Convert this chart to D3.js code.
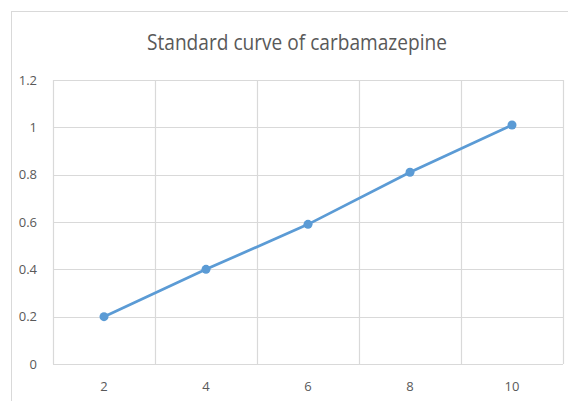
<!DOCTYPE html>
<html>
<head>
<meta charset="utf-8">
<script src="https://cdn.jsdelivr.net/npm/d3@7"></script>
<style>
  body { margin: 0; background: #fff; }
  text { font-family: "Open Sans", "Noto Sans", sans-serif; fill: #595959; }
</style>
</head>
<body>
<div id="chart"></div>
<script>
const chartTitle = "Standard curve of carbamazepine"
const concentrations = ["2", "4", "6", "8", "10"]
const absorbance = [0.2, 0.4, 0.59, 0.81, 1.01]
const yTicks = [0, 0.2, 0.4, 0.6, 0.8, 1, 1.2]

const width = 568, height = 401
const margin = { top: 80, right: 5, bottom: 37, left: 53 }

const svg = d3.select("#chart").append("svg")
    .attr("width", width)
    .attr("height", height)

// outer chart frame
svg.append("rect")
    .attr("x", 11.5).attr("y", 11.5)
    .attr("width", width + 20).attr("height", height + 20)
    .attr("fill", "#fff")
    .attr("stroke", "#d9d9d9")

svg.append("text")
    .attr("x", 297).attr("y", 50)
    .attr("text-anchor", "middle")
    .attr("textLength", 300)
    .attr("lengthAdjust", "spacingAndGlyphs")
    .style("font-size", "22px")
    .text(chartTitle)

const x = d3.scaleBand()
    .domain(concentrations)
    .range([margin.left, width - margin.right])

const y = d3.scaleLinear()
    .domain([0, 1.2])
    .range([height - margin.bottom, margin.top])

const grid = svg.append("g").attr("stroke", "#d9d9d9").attr("stroke-width", 1.2)

grid.selectAll(".hgrid")
    .data(yTicks)
    .enter().append("line")
    .attr("x1", margin.left).attr("x2", width - margin.right)
    .attr("y1", d => Math.round(y(d)) + 0.5).attr("y2", d => Math.round(y(d)) + 0.5)

const vEdges = concentrations.map(c => x(c)).concat([x.range()[1]])
grid.selectAll(".vgrid")
    .data(vEdges)
    .enter().append("line")
    .attr("x1", d => Math.round(d) + 0.5).attr("x2", d => Math.round(d) + 0.5)
    .attr("y1", y(1.2)).attr("y2", y(0))

// axes
const yAxis = svg.append("g")
    .attr("transform", "translate(" + (margin.left - 13) + ",0)")
    .call(d3.axisLeft(y).tickValues(yTicks).tickSize(0).tickFormat(d3.format("~g")))
yAxis.select(".domain").remove()
yAxis.selectAll("text").style("font-size", "13px").style("fill", "#595959")

const xAxis = svg.append("g")
    .attr("transform", "translate(0," + (y(0) + 15) + ")")
    .call(d3.axisBottom(x).tickSize(0))
xAxis.select(".domain").remove()
xAxis.selectAll("text").style("font-size", "13px").style("fill", "#595959")

const points = concentrations.map((c, i) => ({ c: c, v: absorbance[i] }))

svg.append("path")
    .datum(points)
    .attr("fill", "none")
    .attr("stroke", "#5b9bd5")
    .attr("stroke-width", 2.75)
    .attr("d", d3.line()
        .x(d => x(d.c) + x.bandwidth() / 2)
        .y(d => y(d.v)))

svg.selectAll(".dot")
    .data(points)
    .enter().append("circle")
    .attr("cx", d => x(d.c) + x.bandwidth() / 2)
    .attr("cy", d => y(d.v))
    .attr("r", 4.5)
    .attr("fill", "#5b9bd5")
</script>
</body>
</html>
